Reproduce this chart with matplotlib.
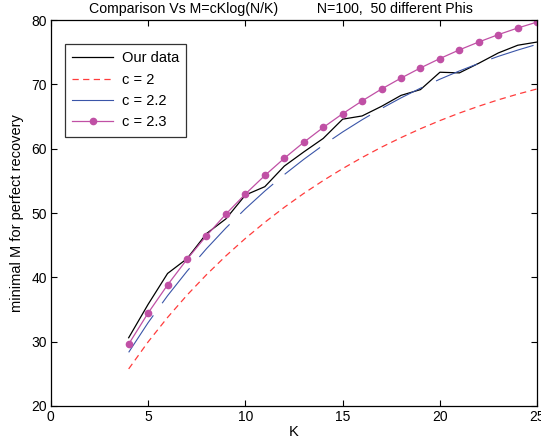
import matplotlib
matplotlib.use("Agg")
import matplotlib.pyplot as plt
from matplotlib.lines import Line2D

plt.rcParams['font.family'] = ['Liberation Sans', 'DejaVu Sans']

K = [4, 5, 6, 7, 8, 9, 10, 11, 12, 13, 14, 15, 16, 17, 18, 19, 20, 21, 22, 23, 24, 25]
our_data = [30.6, 35.8, 40.6, 42.9, 46.8, 49.1, 52.8, 54.1, 57.3, 59.5, 61.6, 64.6,
            65.1, 66.6, 68.3, 69.2, 71.9, 71.8, 73.3, 74.9, 76.1, 76.6]
c2 = [25.75, 29.96, 33.76, 37.23, 40.41, 43.34, 46.05, 48.56, 50.89, 53.05, 55.05,
      56.91, 58.64, 60.25, 61.73, 63.11, 64.38, 65.55, 66.62, 67.61, 68.50, 69.31]
c22 = [28.33, 32.95, 37.14, 40.95, 44.45, 47.68, 50.66, 53.42, 55.98, 58.35, 60.56,
       62.61, 64.51, 66.27, 67.91, 69.42, 70.82, 72.10, 73.28, 74.37, 75.35, 76.25]
c23 = [29.61, 34.45, 38.82, 42.81, 46.47, 49.84, 52.96, 55.84, 58.52, 61.00, 63.31,
       65.45, 67.44, 69.29, 70.99, 72.57, 74.03, 75.38, 76.61, 77.75, 78.78, 79.71]
labels = ["Our data", "c = 2", "c = 2.2", "c = 2.3"]
xticks = [0, 5, 10, 15, 20, 25]
yticks = [20, 30, 40, 50, 60, 70, 80]

FS = 10.5
fig = plt.figure(figsize=(5.41, 4.48), dpi=100)
ax = fig.add_axes([0.094, 0.094, 0.899, 0.861])

ax.plot(K, our_data, color='black', lw=0.9, label=labels[0])
ax.plot(K, c2, color='#ff3c3c', lw=0.9, dashes=(5, 3.5), label=labels[1])
l22, = ax.plot(K, c22, color='#3a55a8', lw=0.8, label=labels[2])
l22.set_dashes((40, 13.5))
ax.plot(K, c23, color='#c050a5', lw=0.9, marker='o', markersize=4.5,
        markerfacecolor='#c050a5', markeredgecolor='#c050a5', label=labels[3])

ax.set_xlim(0, 25)
ax.set_ylim(20, 80)
ax.set_xticks(xticks)
ax.set_yticks(yticks)
ax.tick_params(direction='in', top=True, right=True, length=4, width=0.8,
               labelsize=10, pad=3)
for s in ax.spines.values():
    s.set_linewidth(0.9)

ax.set_xlabel("K", fontsize=FS, labelpad=1)
ax.set_ylabel("minimal M for perfect recovery", fontsize=FS, labelpad=5)
ax.set_title("Comparison Vs M=cKlog(N/K)          N=100,  50 different Phis",
             fontsize=10.2, x=0.474, pad=5)

handles = [Line2D([], [], color='black', lw=0.9),
           Line2D([], [], color='#ff3c3c', lw=0.9, dashes=(5, 3.5)),
           Line2D([], [], color='#3a55a8', lw=0.8),
           Line2D([], [], color='#c050a5', lw=0.9, marker='o', markersize=4.5)]
leg = ax.legend(handles, labels, loc='upper left', bbox_to_anchor=(0.029, 0.938),
                fontsize=FS, frameon=True, fancybox=False, edgecolor='black',
                borderpad=0.5, handlelength=2.8, labelspacing=0.5, handletextpad=0.6,
                borderaxespad=0)
leg.get_frame().set_linewidth(0.9)

fig.savefig("out.png", dpi=100)
